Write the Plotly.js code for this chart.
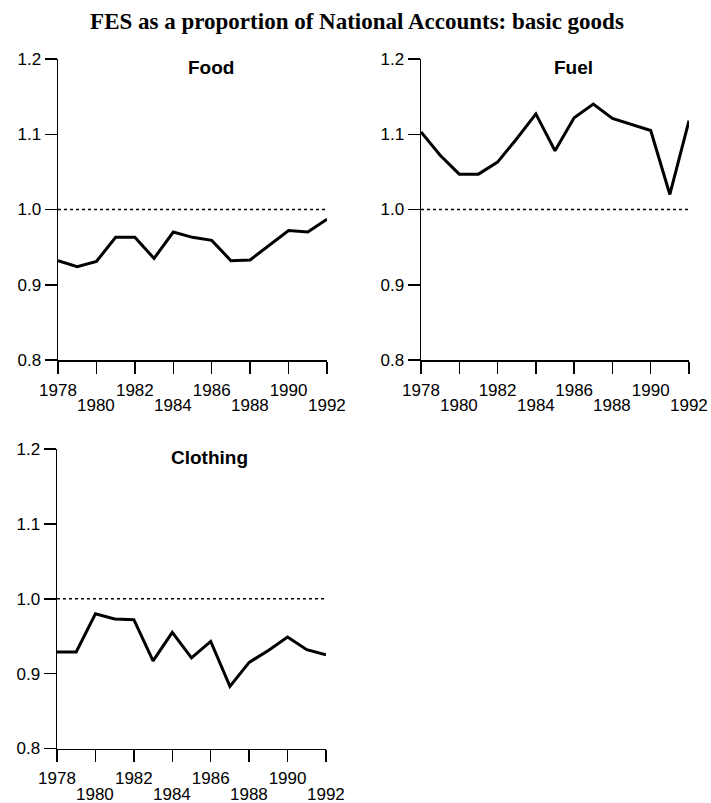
<!DOCTYPE html>
<html>
<head>
<meta charset="utf-8">
<script src="https://cdn.plot.ly/plotly-3.0.1.min.js"></script>
<style>
  html, body { margin: 0; padding: 0; background: #fff; }
  #chart { width: 711px; height: 803px; }
</style>
</head>
<body>
<div id="chart"></div>
<script>
// ---- data ----
const years = [1978, 1979, 1980, 1981, 1982, 1983, 1984, 1985, 1986, 1987, 1988, 1989, 1990, 1991, 1992];
const food = [0.932, 0.924, 0.931, 0.963, 0.963, 0.935, 0.970, 0.963, 0.959, 0.932, 0.933, 0.953, 0.972, 0.970, 0.987];
const fuel = [1.103, 1.072, 1.047, 1.047, 1.063, 1.094, 1.127, 1.078, 1.122, 1.140, 1.121, 1.113, 1.105, 1.020, 1.118];
const clothing = [0.929, 0.929, 0.980, 0.973, 0.972, 0.917, 0.955, 0.921, 0.943, 0.883, 0.915, 0.931, 0.949, 0.932, 0.925];

const panelTitles = ["Food", "Fuel", "Clothing"];
const tickYears = [1978, 1980, 1982, 1984, 1986, 1988, 1990, 1992];
const upperRowLabels = ["1978", "", "1982", "", "1986", "", "1990", ""];
const lowerRowYears = [1980, 1984, 1988, 1992];
const lowerRowLabels = ["1980", "1984", "1988", "1992"];
const yTicks = [0.8, 0.9, 1.0, 1.1, 1.2];
const yTickLabels = ["0.8", "0.9", "1.0", "1.1", "1.2"];
const referenceLevel = 1.0;
const mainTitle = "FES as a proportion of National Accounts: basic goods";

// ---- layout ----
const W = 711, H = 803;
const sans = "Liberation Sans, Arial, Helvetica, sans-serif";
const panels = [
  { series: food,     xd: [58, 327],  yd: [59, 360] },
  { series: fuel,     xd: [421, 689], yd: [59, 360] },
  { series: clothing, xd: [57, 326],  yd: [449, 748.5] }
];

const traces = [];
const layout = {
  width: W, height: H,
  margin: { l: 0, r: 0, t: 0, b: 0 },
  paper_bgcolor: "#fff", plot_bgcolor: "#fff",
  showlegend: false,
  title: {
    text: "<b>" + mainTitle + "</b>",
    font: { family: "Liberation Serif, Times New Roman, serif", size: 23, color: "#000" },
    x: 357 / W, xanchor: "center",
    y: 1 - 20.5 / H, yanchor: "middle"
  },
  annotations: [],
  shapes: []
};

panels.forEach((p, i) => {
  const n = i + 1;
  const xa = n === 1 ? "x" : "x" + n;
  const ya = n === 1 ? "y" : "y" + n;
  const xk = n === 1 ? "xaxis" : "xaxis" + n;
  const yk = n === 1 ? "yaxis" : "yaxis" + n;

  traces.push({
    type: "scatter", mode: "lines",
    x: years, y: p.series,
    xaxis: xa, yaxis: ya,
    line: { color: "#000", width: 3 },
    hoverinfo: "skip"
  });

  layout[xk] = {
    domain: [p.xd[0] / W, p.xd[1] / W],
    anchor: ya,
    range: [years[0], years[years.length - 1]],
    tickmode: "array", tickvals: tickYears, ticktext: upperRowLabels,
    ticks: "outside", ticklen: 12, tickwidth: 1.5, tickcolor: "#000",
    showline: true, linecolor: "#000", linewidth: 1.5,
    showgrid: false, zeroline: false,
    tickfont: { family: sans, size: 17, color: "#000" },
    ticklabelstandoff: 2,
    fixedrange: true
  };
  layout[yk] = {
    domain: [1 - p.yd[1] / H, 1 - p.yd[0] / H],
    anchor: xa,
    range: [yTicks[0], yTicks[yTicks.length - 1]],
    tickmode: "array", tickvals: yTicks, ticktext: yTickLabels,
    ticks: "outside", ticklen: 12, tickwidth: 1.5, tickcolor: "#000",
    showline: true, linecolor: "#000", linewidth: 1.5,
    showgrid: false, zeroline: false,
    tickfont: { family: sans, size: 17, color: "#000" },
    fixedrange: true
  };

  // dotted reference line at 1.0
  layout.shapes.push({
    type: "line", xref: xa + " domain", yref: ya,
    x0: 0, x1: 1, y0: referenceLevel, y1: referenceLevel,
    line: { color: "#000", width: 1.5, dash: "dot" }
  });

  // panel title
  layout.annotations.push({
    text: "<b>" + panelTitles[i] + "</b>",
    xref: xa + " domain", yref: ya + " domain",
    x: 0.568, y: 1,
    xanchor: "center", yanchor: "top", yshift: 4,
    showarrow: false,
    font: { family: sans, size: 19, color: "#000" }
  });

  // lower row of staggered year labels
  lowerRowYears.forEach((yr, k) => {
    layout.annotations.push({
      text: lowerRowLabels[k],
      xref: xa, yref: ya,
      x: yr, y: yTicks[0],
      xanchor: "center", yanchor: "top", yshift: -35,
      borderpad: 0,
      showarrow: false,
      font: { family: sans, size: 17, color: "#000" }
    });
  });
});

Plotly.newPlot("chart", traces, layout, { staticPlot: true, displayModeBar: false });
</script>
</body>
</html>
